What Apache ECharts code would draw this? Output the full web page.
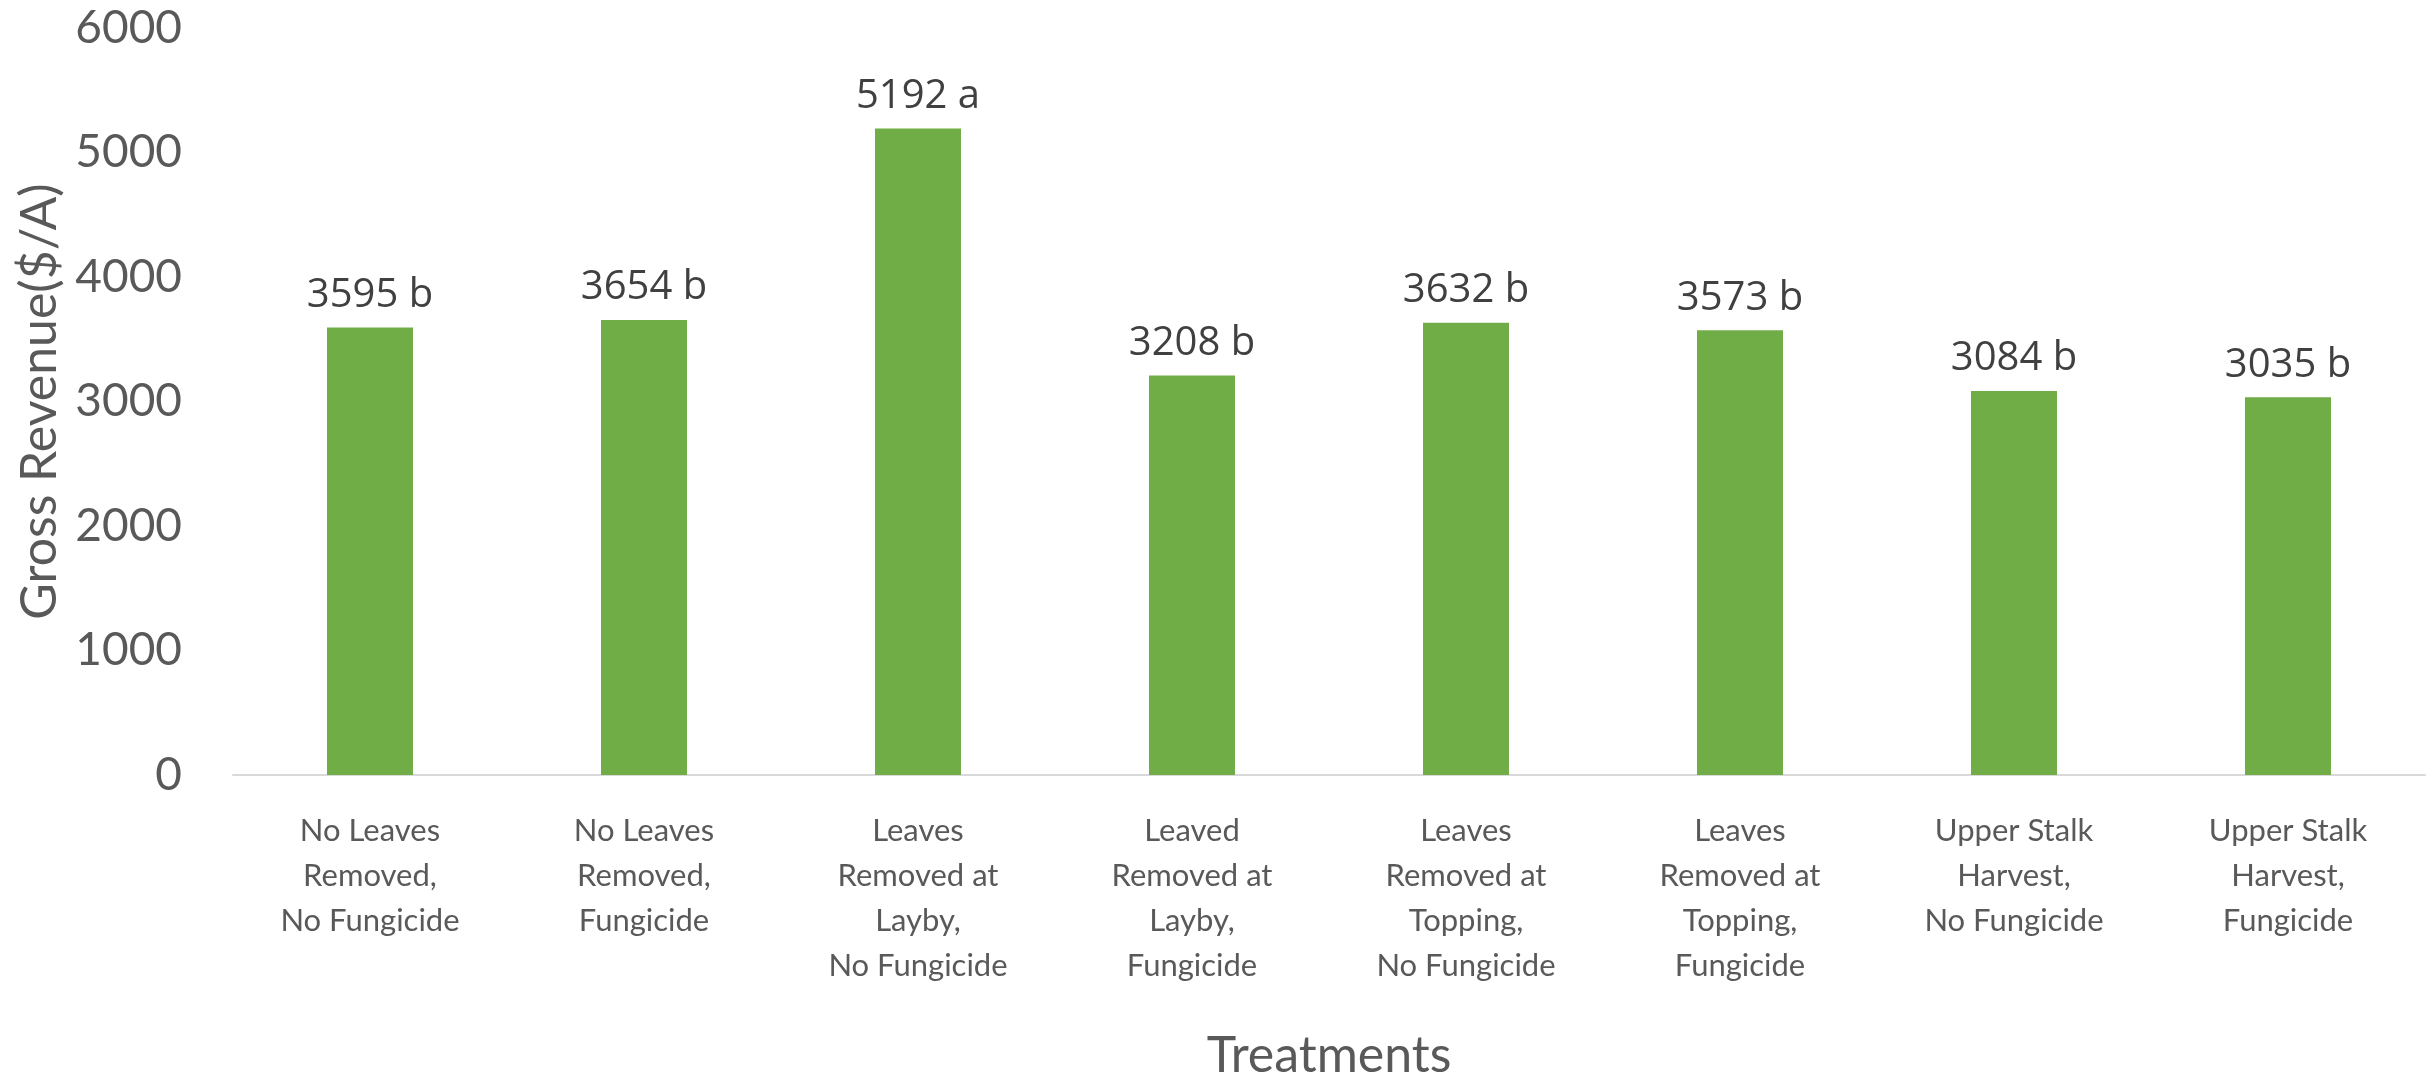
<!DOCTYPE html>
<html>
<head>
<meta charset="utf-8">
<script src="https://cdn.jsdelivr.net/npm/echarts@6/dist/echarts.min.js"></script>
<style>
  html, body { margin: 0; padding: 0; background: #fff; }
  #chart { width: 2432px; height: 1075px; }
</style>
</head>
<body>
<div id="chart"></div>
<script>
var treatments = [
  'No Leaves\nRemoved,\nNo Fungicide',
  'No Leaves\nRemoved,\nFungicide',
  'Leaves\nRemoved at\nLayby,\nNo Fungicide',
  'Leaved\nRemoved at\nLayby,\nFungicide',
  'Leaves\nRemoved at\nTopping,\nNo Fungicide',
  'Leaves\nRemoved at\nTopping,\nFungicide',
  'Upper Stalk\nHarvest,\nNo Fungicide',
  'Upper Stalk\nHarvest,\nFungicide'
];
var revenue = [3595, 3654, 5192, 3208, 3632, 3573, 3084, 3035];
var letters = ['b', 'b', 'a', 'b', 'b', 'b', 'b', 'b'];
var yTicks = [0, 1000, 2000, 3000, 4000, 5000, 6000];

var myChart = echarts.init(document.getElementById('chart'));
myChart.setOption({
  animation: false,
  grid: { left: 233, right: 7, top: 28, bottom: 300, outerBoundsMode: 'none', containLabel: false },
  xAxis: {
    type: 'category',
    data: treatments,
    name: 'Treatments',
    nameLocation: 'middle',
    nameGap: 256,
    nameTextStyle: { fontFamily: 'Lato', fontSize: 50, color: '#595959' },
    axisLine: { lineStyle: { color: '#D9D9D9', width: 2 } },
    axisTick: { show: false },
    axisLabel: {
      interval: 0,
      margin: 33,
      fontFamily: 'Lato',
      fontSize: 31,
      lineHeight: 45,
      color: '#595959'
    }
  },
  yAxis: {
    type: 'value',
    min: yTicks[0],
    max: yTicks[yTicks.length - 1],
    interval: 1000,
    name: 'Gross Revenue($/A)',
    nameLocation: 'middle',
    nameRotate: 90,
    nameGap: 166,
    nameTextStyle: { fontFamily: 'Lato', fontSize: 50, color: '#595959' },
    splitLine: { show: false },
    axisLine: { show: false },
    axisTick: { show: false },
    axisLabel: {
      margin: 51,
      fontFamily: 'Lato',
      fontSize: 46,
      color: '#595959',
      formatter: function (v) { return String(v); }
    }
  },
  series: [{
    type: 'bar',
    data: revenue,
    barWidth: 86,
    itemStyle: { color: '#70AD47' },
    label: {
      show: true,
      position: 'top',
      distance: 12,
      fontFamily: 'Open Sans',
      fontSize: 40,
      color: '#404040',
      formatter: function (p) { return p.value + ' ' + letters[p.dataIndex]; }
    }
  }]
});
</script>
</body>
</html>
